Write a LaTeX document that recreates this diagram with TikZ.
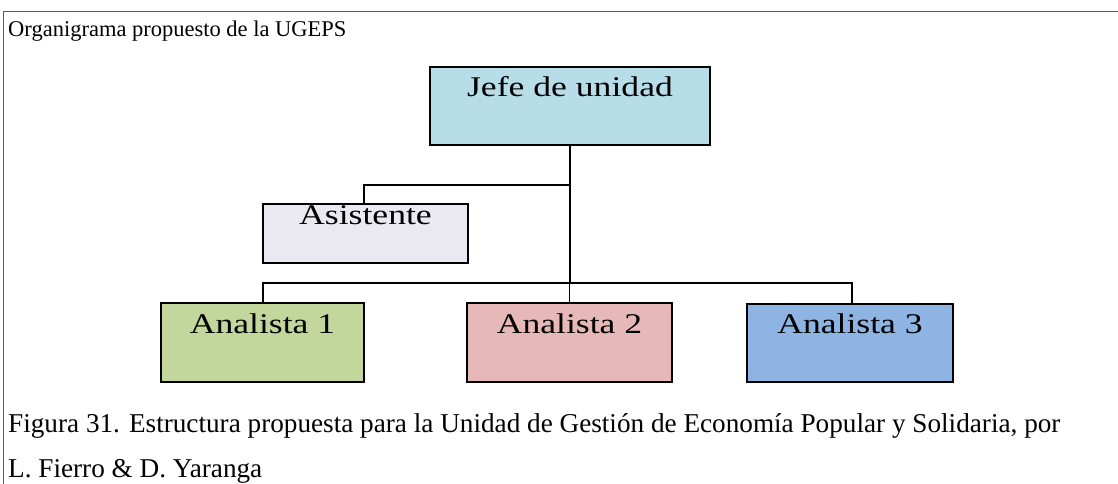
\documentclass[tikz,border=0pt]{standalone}
\usepackage{fontspec}
\setmainfont{Liberation Serif}
\newfontfamily\boxfont[FakeStretch=1.25]{Liberation Serif}
\usetikzlibrary{calc}
\definecolor{cjefe}{HTML}{B7DDE8}
\definecolor{casis}{HTML}{EAE8F0}
\definecolor{cana}{HTML}{C3D69B}
\definecolor{canb}{HTML}{E6B9B8}
\definecolor{canc}{HTML}{8EB4E3}
\definecolor{cframe}{HTML}{5A5A5A}
\tikzset{
  orgbox/.style={draw=black, line width=1.8pt, inner sep=0pt},
  boxtxt/.style={anchor=base, inner sep=0pt, font=\boxfont\fontsize{28.5}{34}\selectfont},
  conn/.style={draw=black, line width=1.6pt},
  mainconn/.style={draw=black, line width=2.4pt},
  plaintxt/.style={anchor=base west, inner sep=0pt}
}
\begin{document}
\begin{tikzpicture}[x=1pt,y=-1pt]
\useasboundingbox (0,0) rectangle (1118,484);
% frame
\draw[cframe, line width=1.5pt] (3.5,484) -- (3.5,11.5) -- (1118,11.5);
\node[plaintxt, font=\fontsize{22.5}{27}\selectfont] (title) at (8,37) {Organigrama propuesto de la UGEPS};
% boxes
\node[orgbox, fill=cjefe, minimum width=280pt, minimum height=78pt] (jefe) at (570,106) {};
\node[boxtxt] (jefet) at ($(jefe.north)+(0,30)$) {Jefe de unidad};
\node[orgbox, fill=casis, minimum width=205pt, minimum height=59pt] (asis) at (365.5,233.5) {};
\node[boxtxt] (asist) at ($(asis.north)+(0,21)$) {Asistente};
\node[orgbox, fill=cana, minimum width=203pt, minimum height=79pt] (a1) at (262.5,342.5) {};
\node[boxtxt] (a1t) at ($(a1.north)+(0,31)$) {Analista 1};
\node[orgbox, fill=canb, minimum width=205pt, minimum height=79pt] (a2) at (569.5,342.5) {};
\node[boxtxt] (a2t) at ($(a2.north)+(0,31)$) {Analista 2};
\node[orgbox, fill=canc, minimum width=206pt, minimum height=78pt] (a3) at (850,343) {};
\node[boxtxt] (a3t) at ($(a3.north)+(0,30)$) {Analista 3};
% connectors
\coordinate (abr) at (570,185);
\coordinate (bus) at (570,283);
\draw[mainconn] (jefe.south) -- (bus);
\draw[conn] (abr) -| ([xshift=-1.5pt]asis.north);
\draw[conn] ([xshift=0.5pt]a1.north) |- (bus) -| ([xshift=2pt]a3.north);
\draw[conn] (a2.north) -- (a2.north |- bus);
% caption
\node[plaintxt, font=\fontsize{27.2}{32}\selectfont] (cap1) at (8,432) {Figura 31. Estructura propuesta para la Unidad de Gestión de Economía Popular y Solidaria, por};
\node[plaintxt, font=\fontsize{27.2}{32}\selectfont] (cap2) at (8,477) {L. Fierro \& D. Yaranga};
\end{tikzpicture}
\end{document}
